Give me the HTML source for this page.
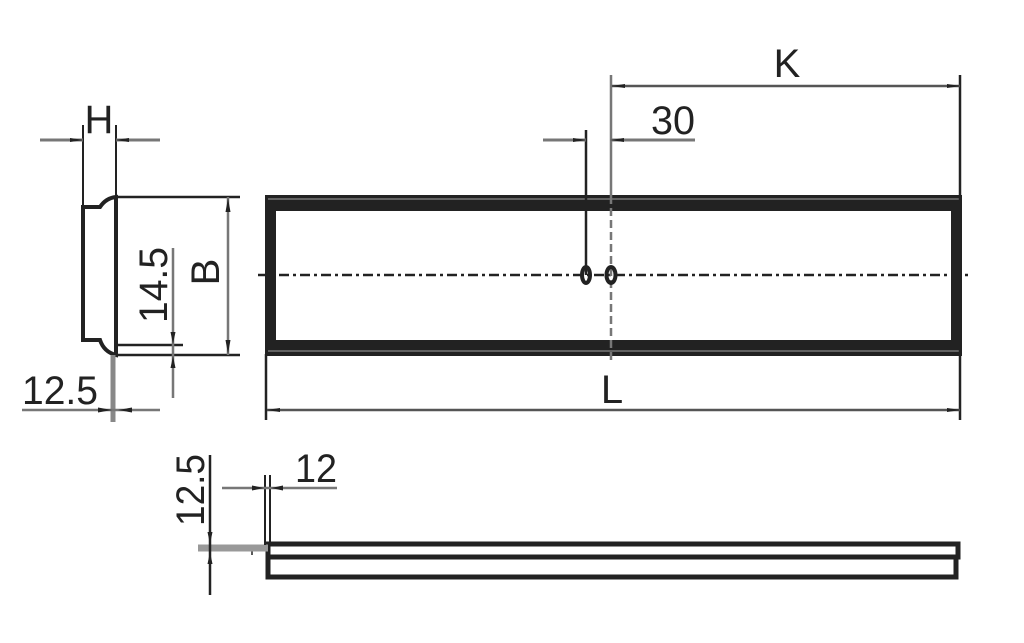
<!DOCTYPE html>
<html><head><style>html,body{margin:0;padding:0;background:#fff}svg{display:block}</style></head>
<body>
<svg width="1024" height="643" viewBox="0 0 1024 643" xmlns="http://www.w3.org/2000/svg" font-family="Liberation Sans, sans-serif" font-size="40" fill="#222">
<defs>
<marker id="a" markerWidth="14" markerHeight="8" refX="13" refY="4" orient="auto" markerUnits="userSpaceOnUse"><path d="M0,2 L14,4 L0,6z" fill="#222"/></marker>
</defs>
<g stroke="#222" fill="none">
<!-- main rectangle: thick frame -->
<path d="M265,195 H962 V356 H265 Z M276,211 V340 H951 V211 Z" fill="#222" fill-rule="evenodd" stroke="none"/>
<line x1="268" y1="199" x2="959" y2="199" stroke="#777" stroke-width="1.5"/>
<line x1="268" y1="351" x2="959" y2="351" stroke="#777" stroke-width="1.5"/>
<line x1="258" y1="275" x2="968" y2="275" stroke-width="2.5" stroke-dasharray="10,4,3,4"/>
<line x1="611" y1="75" x2="611" y2="196" stroke="#777" stroke-width="2.5"/>
<line x1="611" y1="196" x2="611" y2="360" stroke="#777" stroke-width="2.5" stroke-dasharray="8,4"/>
<line x1="586" y1="130" x2="586" y2="275" stroke-width="2.5"/>
<ellipse cx="586" cy="275" rx="4" ry="8" stroke-width="4"/>
<ellipse cx="611" cy="275" rx="4.5" ry="8" stroke-width="4"/>
<line x1="960" y1="75" x2="960" y2="420" stroke-width="2.5"/>
<line x1="266" y1="354" x2="266" y2="420" stroke-width="2.5"/>
<!-- K -->
<line x1="640" y1="86" x2="960" y2="86" stroke="#555" stroke-width="2.5" marker-end="url(#a)"/>
<line x1="640" y1="86" x2="612" y2="86" stroke="#555" stroke-width="2.5" marker-end="url(#a)"/>
<!-- 30 -->
<line x1="543" y1="140" x2="586" y2="140" stroke="#777" stroke-width="3" marker-end="url(#a)"/>
<line x1="695" y1="140" x2="611" y2="140" stroke="#777" stroke-width="3" marker-end="url(#a)"/>
<!-- L -->
<line x1="300" y1="410" x2="960" y2="410" stroke="#555" stroke-width="2.5" marker-end="url(#a)"/>
<line x1="300" y1="410" x2="267" y2="410" stroke="#555" stroke-width="2.5" marker-end="url(#a)"/>
<!-- side profile -->
<path d="M83,340 L83,207 L100,207 Q106,198 116,197 L116,355 Q104,352 100,340 Z" stroke-width="4"/>
<line x1="83" y1="125" x2="83" y2="207" stroke-width="2"/>
<line x1="116" y1="125" x2="116" y2="197" stroke-width="2"/>
<line x1="40" y1="140" x2="83" y2="140" stroke="#777" stroke-width="3" marker-end="url(#a)"/>
<line x1="160" y1="140" x2="116" y2="140" stroke="#777" stroke-width="3" marker-end="url(#a)"/>
<line x1="116" y1="197" x2="240" y2="197" stroke-width="2.5"/>
<line x1="116" y1="355" x2="240" y2="355" stroke-width="2.5"/>
<line x1="116" y1="345" x2="183" y2="345" stroke-width="2.5"/>
<line x1="228" y1="197" x2="228" y2="355" stroke="#777" stroke-width="2.5"/>
<path d="M228,198 l-2.5,14 h5z M228,354 l-2.5,-14 h5z" fill="#222" stroke="none"/>
<line x1="173" y1="248" x2="173" y2="398" stroke="#777" stroke-width="2.5"/>
<path d="M173,344 l-2.5,-12 h5z M173,356 l-2.5,12 h5z" fill="#222" stroke="none"/>
<line x1="113" y1="355" x2="113" y2="422" stroke="#888" stroke-width="5"/>
<line x1="22" y1="410" x2="160" y2="410" stroke="#777" stroke-width="2.5"/>
<path d="M112,410 l-14,-2.5 v5z M118,410 l14,-2.5 v5z" fill="#222" stroke="none"/>
<!-- bottom view -->
<rect x="268" y="544" width="690" height="13" stroke-width="5"/>
<rect x="268" y="557" width="688" height="20" stroke-width="5"/>
<line x1="252" y1="546" x2="252" y2="555" stroke-width="1.5"/>
<line x1="198" y1="548" x2="268" y2="548" stroke="#999" stroke-width="7"/>
<line x1="210" y1="455" x2="210" y2="595" stroke-width="2.5"/>
<path d="M210,544 l-2.5,-12 h5z M210,552 l-2.5,12 h5z" fill="#222" stroke="none"/>
<line x1="265" y1="475" x2="265" y2="545" stroke-width="2"/>
<line x1="270" y1="475" x2="270" y2="545" stroke-width="2"/>
<line x1="222" y1="488" x2="337" y2="488" stroke="#777" stroke-width="2.5"/>
<path d="M264,488 l-12,-2.5 v5z M271,488 l12,-2.5 v5z" fill="#222" stroke="none"/>
</g>
<g fill="#222" stroke="none">
<text x="787" y="77" text-anchor="middle" textLength="30">K</text>
<text x="673" y="134" text-anchor="middle" textLength="44" lengthAdjust="spacingAndGlyphs">30</text>
<text x="612" y="403" text-anchor="middle">L</text>
<text x="99" y="133" text-anchor="middle">H</text>
<text x="60" y="404" text-anchor="middle" textLength="76" lengthAdjust="spacingAndGlyphs">12.5</text>
<text x="316" y="482" text-anchor="middle" textLength="42" lengthAdjust="spacingAndGlyphs">12</text>
<text transform="translate(219,272) rotate(-90)" text-anchor="middle">B</text>
<text transform="translate(167,285) rotate(-90)" text-anchor="middle" textLength="76" lengthAdjust="spacingAndGlyphs">14.5</text>
<text transform="translate(204,490) rotate(-90)" text-anchor="middle" textLength="72" lengthAdjust="spacingAndGlyphs">12.5</text>
</g>
</svg>
</body></html>
